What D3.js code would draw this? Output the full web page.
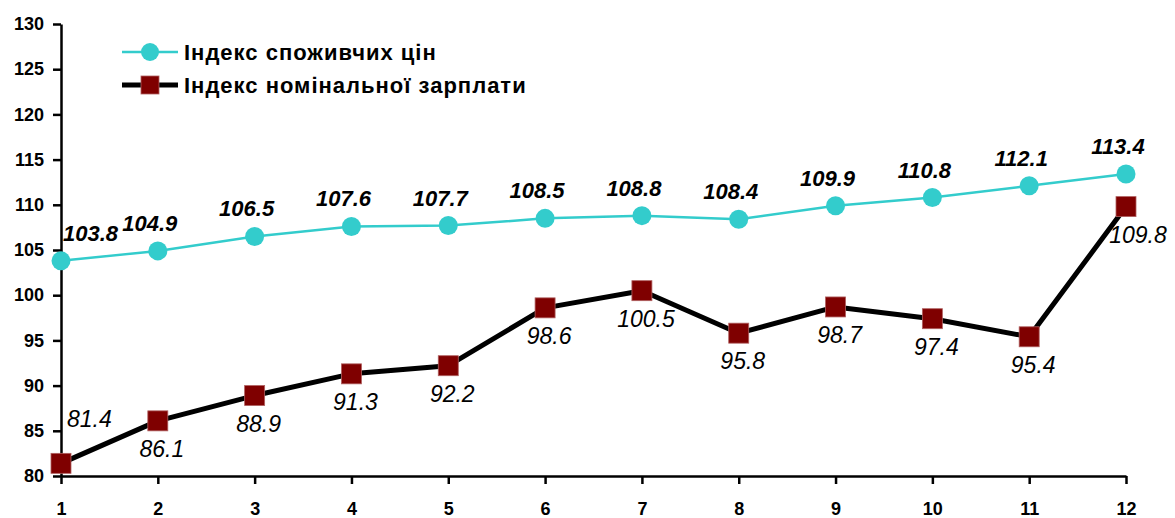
<!DOCTYPE html>
<html>
<head>
<meta charset="utf-8">
<script src="https://cdn.jsdelivr.net/npm/d3@7"></script>
<style>
  body { margin: 0; background: #fff; }
  svg text { font-family: "Liberation Sans", Arial, sans-serif; }
  .axis path, .axis line { stroke: #000; stroke-width: 2.5; }
  .axis text { font-size: 18px; font-weight: bold; fill: #000; }
</style>
</head>
<body>
<div id="chart"></div>
<script>
var months = [1, 2, 3, 4, 5, 6, 7, 8, 9, 10, 11, 12];
var cpi = [103.8, 104.9, 106.5, 107.6, 107.7, 108.5, 108.8, 108.4, 109.9, 110.8, 112.1, 113.4];
var wage = [81.4, 86.1, 88.9, 91.3, 92.2, 98.6, 100.5, 95.8, 98.7, 97.4, 95.4, 109.8];
var yTicks = [80, 85, 90, 95, 100, 105, 110, 115, 120, 125, 130];
var seriesNames = ["Індекс споживчих цін", "Індекс номінальної зарплати"];

var w = 1175;
var h = 518;
var margin = {left: 61, right: 49, top: 24, bottom: 42};

var svg = d3.select("#chart")
  .append("svg")
  .attr("width", w)
  .attr("height", h);

var x = d3.scaleLinear()
  .domain([1, 12])
  .range([margin.left, w - margin.right]);

var y = d3.scaleLinear()
  .domain([80, 130])
  .range([h - margin.bottom, margin.top]);

// axes
svg.append("g")
  .attr("class", "axis")
  .attr("transform", "translate(0," + y(80) + ")")
  .call(d3.axisBottom(x).tickValues(months).tickFormat(d3.format("d"))
    .tickSize(8).tickSizeOuter(0).tickPadding(18));

svg.append("g")
  .attr("class", "axis")
  .attr("transform", "translate(" + x(1) + ",0)")
  .call(d3.axisLeft(y).tickValues(yTicks).tickSize(8).tickSizeOuter(0).tickPadding(9));

// lines
var line = function(vals) {
  return d3.line()
    .x(function(d, i) { return x(months[i]); })
    .y(function(d) { return y(d); })(vals);
};

svg.append("path")
  .attr("d", line(wage))
  .attr("fill", "none")
  .attr("stroke", "#000")
  .attr("stroke-width", 5)
  .attr("stroke-linejoin", "round");

svg.append("path")
  .attr("d", line(cpi))
  .attr("fill", "none")
  .attr("stroke", "#33cccc")
  .attr("stroke-width", 2.5);

// markers
svg.selectAll(".sq")
  .data(wage)
  .enter()
  .append("rect")
  .attr("class", "sq")
  .attr("x", function(d, i) { return x(months[i]) - 10; })
  .attr("y", function(d) { return y(d) - 10; })
  .attr("width", 20)
  .attr("height", 20)
  .attr("fill", "#7f0000")
  .attr("stroke", "#b06060")
  .attr("stroke-width", 0.8);

svg.selectAll(".dot")
  .data(cpi)
  .enter()
  .append("circle")
  .attr("class", "dot")
  .attr("cx", function(d, i) { return x(months[i]); })
  .attr("cy", function(d) { return y(d); })
  .attr("r", 9.5)
  .attr("fill", "#33cccc");

// value labels
svg.selectAll(".cpi-lbl")
  .data(cpi)
  .enter()
  .append("text")
  .attr("class", "cpi-lbl")
  .attr("x", function(d, i) { return i == 0 ? x(months[i]) + 2 : x(months[i]) - 8; })
  .attr("y", function(d) { return y(d) - 20; })
  .attr("text-anchor", function(d, i) { return i == 0 ? "start" : "middle"; })
  .style("font-size", "22px")
  .style("font-weight", "bold")
  .style("font-style", "italic")
  .text(function(d) { return d.toFixed(1); });

svg.selectAll(".wage-lbl")
  .data(wage)
  .enter()
  .append("text")
  .attr("class", "wage-lbl")
  .attr("x", function(d, i) {
    if (i == 0) return x(months[i]) + 6;
    if (i == wage.length - 1) return x(months[i]) + 12;
    return x(months[i]) + 4;
  })
  .attr("y", function(d, i) { return i == 0 ? y(d) - 36 : y(d) + 36; })
  .attr("text-anchor", function(d, i) { return i == 0 ? "start" : "middle"; })
  .style("font-size", "23px")
  .style("font-style", "italic")
  .text(function(d) { return d.toFixed(1); });

// legend
var legend = svg.append("g").attr("transform", "translate(122,52)");

legend.append("line")
  .attr("x1", 0).attr("x2", 56).attr("y1", 0).attr("y2", 0)
  .attr("stroke", "#33cccc").attr("stroke-width", 2.5);
legend.append("circle")
  .attr("cx", 28).attr("cy", 0).attr("r", 9)
  .attr("fill", "#33cccc");
legend.append("text")
  .attr("x", 62).attr("y", 8)
  .style("font-size", "22px").style("font-weight", "bold")
  .style("letter-spacing", "1px")
  .text(seriesNames[0]);

legend.append("line")
  .attr("x1", 0).attr("x2", 56).attr("y1", 33).attr("y2", 33)
  .attr("stroke", "#000").attr("stroke-width", 5);
legend.append("rect")
  .attr("x", 19).attr("y", 24).attr("width", 18).attr("height", 18)
  .attr("fill", "#7f0000").attr("stroke", "#b06060").attr("stroke-width", 0.8);
legend.append("text")
  .attr("x", 62).attr("y", 41)
  .style("font-size", "22px").style("font-weight", "bold")
  .style("letter-spacing", "1px")
  .text(seriesNames[1]);
</script>
</body>
</html>
